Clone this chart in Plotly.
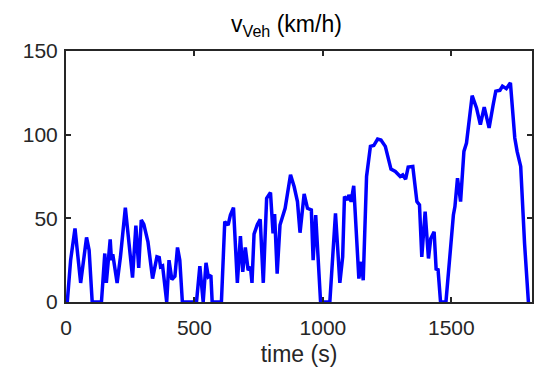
import plotly.graph_objects as go

# Vehicle speed trace over the drive cycle
time_s = [0, 5, 18, 35, 57, 80, 90, 102, 138, 151, 157, 172, 177, 182, 199, 212,
          231, 259, 272, 283, 293, 303, 319, 337, 354, 363, 368, 376, 392, 401,
          412, 424, 434, 443, 453, 508, 521, 534, 545, 554, 564, 569, 605, 618,
          631, 640, 652, 667, 679, 688, 698, 709, 718, 724, 732, 745, 756, 768,
          781, 796, 806, 812, 822, 833, 853, 874, 888, 901, 911, 927, 940, 955,
          962, 972, 991, 1027, 1049, 1066, 1077, 1084, 1095, 1101, 1110, 1120,
          1140, 1150, 1157, 1170, 1185, 1198, 1213, 1226, 1243, 1265, 1282, 1290,
          1301, 1311, 1322, 1332, 1350, 1366, 1376, 1385, 1398, 1411, 1420, 1433,
          1441, 1448, 1458, 1479, 1495, 1508, 1514, 1524, 1536, 1549, 1559, 1581,
          1598, 1613, 1628, 1647, 1663, 1673, 1689, 1699, 1714, 1730, 1747, 1756,
          1770, 1785, 1800]
speed_kmh = [0, 0, 25, 44, 11.4, 38.6, 31, 0, 0, 29, 11.4, 37.4, 25, 28.6, 11.4, 27,
             56.4, 14.6, 45.6, 20.4, 49, 46.4, 36, 14, 27, 26.6, 21, 21.6, 0, 25,
             13.4, 15.4, 32.6, 25, 0, 0, 21.4, 0, 23.4, 15, 16, 0, 0, 48,
             46, 52, 56.4, 11.4, 39.4, 18, 32.6, 19, 21, 11.4, 40.6, 46.4, 49.4, 11.4,
             62, 65.4, 41, 52.6, 17, 46, 56, 76, 69, 60, 41.4, 64.6, 56, 55,
             25, 52, 0, 0, 53, 11.4, 27, 63, 61, 64, 60, 69.4,
             14, 24, 13, 75, 93, 93.5, 97.4, 96.8, 93, 79.4, 78, 77,
             75, 76, 73.4, 80.6, 81, 60, 58, 27, 54, 26, 38, 42,
             19, 20, 0, 0, 31, 52, 57, 74, 60, 90, 95, 123.3,
             116, 106, 116.5, 104, 118, 126, 126.5, 129, 127.5, 131, 98, 90,
             81, 35, 0]

x_ticks = [0, 500, 1000, 1500]
y_ticks = [0, 50, 100, 150]

axis_col = "#262626"
font_family = "Liberation Sans, Arial, sans-serif"

fig = go.Figure(go.Scatter(
    x=time_s, y=speed_kmh, mode="lines",
    line=dict(color="#0000ff", width=3.5),
    hoverinfo="skip",
))

axis_common = dict(
    showline=True, linecolor=axis_col, linewidth=2, mirror="ticks",
    ticks="inside", ticklen=5, tickwidth=2, tickcolor=axis_col,
    showgrid=False, zeroline=False,
    tickfont=dict(family=font_family, size=21, color=axis_col),
)

fig.update_layout(
    width=539, height=382,
    margin=dict(l=66, r=5, t=51, b=80),
    paper_bgcolor="white", plot_bgcolor="white",
    showlegend=False,
    title=dict(
        text="v<sub>Veh</sub> (km/h)",
        x=0.5315, xanchor="center", y=0.936, yanchor="middle",
        font=dict(family=font_family, size=23, color="#000000"),
    ),
    xaxis=dict(
        range=[0, 1814], tickvals=x_ticks, ticklabelstandoff=6,
        title=dict(text="time (s)", standoff=8,
                   font=dict(family=font_family, size=23, color=axis_col)),
        **axis_common,
    ),
    yaxis=dict(range=[0, 150], tickvals=y_ticks, ticklabelstandoff=2,
               **axis_common),
)

fig.write_html("out.html")
